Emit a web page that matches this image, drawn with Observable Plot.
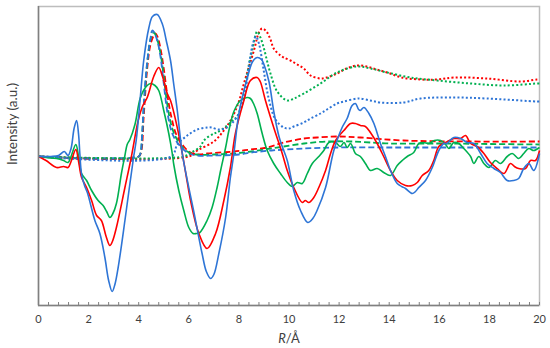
<!DOCTYPE html>
<html><head><meta charset="utf-8">
<script src="https://cdn.jsdelivr.net/npm/d3@7"></script>
<script src="https://cdn.jsdelivr.net/npm/@observablehq/plot@0.6"></script>
<style>body{margin:0;background:#fff}svg{display:block}</style>
</head><body><div id="chart"></div>
<script>
// [R (Å), intensity (a.u.)]
const blueSolid = [[0,0],[0.5,0],[0.8,1],[1.03,5],[1.18,1],[1.3,8],[1.42,28],[1.52,36],[1.6,22],[1.65,3],[1.72,-18],[1.85,-30],[1.95,-36],[2.1,-50],[2.25,-64],[2.45,-77],[2.65,-101],[2.8,-124],[2.94,-135],[3.05,-128],[3.18,-111],[3.45,-64],[3.65,-27],[3.8,0],[3.9,16],[4.05,55],[4.2,96],[4.4,128],[4.55,140],[4.74,142],[4.95,132],[5.1,116],[5.27,96],[5.4,72],[5.54,46],[5.74,3],[5.95,-25],[6.19,-54],[6.53,-97],[6.7,-115],[6.87,-122],[7.0,-118],[7.2,-97],[7.47,-61],[7.66,-21],[7.8,3],[8.0,43],[8.33,78],[8.55,95],[8.73,99],[8.9,97],[9.0,92],[9.2,75],[9.4,44],[9.6,20],[9.73,10],[9.93,-4],[10.19,-34],[10.46,-54],[10.75,-66],[10.95,-62],[11.12,-54],[11.46,-31],[11.79,6],[12.12,29],[12.32,38],[12.52,51],[12.65,53],[12.78,47],[12.85,46],[12.99,49],[13.19,43],[13.39,33],[13.65,13],[13.85,0],[14.05,-14],[14.32,-27],[14.5,-30],[14.65,-32],[14.92,-37],[15.05,-35],[15.18,-31],[15.45,-24],[15.72,-11],[15.98,6],[16.18,13],[16.3,13],[16.58,19],[16.85,18],[17.11,14],[17.38,13],[17.65,3],[17.91,-7],[18.18,-12],[18.44,-16],[18.71,-24],[18.97,-24],[19.17,-22],[19.37,-12],[19.57,-7],[19.77,-14],[20,3]];
const redSolid = [[0,0],[0.3,-4],[0.72,-11],[1.0,-10],[1.18,-11],[1.3,-5],[1.49,7],[1.6,-5],[1.72,-21],[1.92,-31],[2.12,-44],[2.32,-59],[2.51,-64],[2.7,-80],[2.85,-89],[2.95,-85],[3.11,-71],[3.45,-31],[3.71,0],[3.98,36],[4.15,50],[4.34,59],[4.6,80],[4.8,89],[4.95,80],[5.14,63],[5.27,56],[5.54,29],[5.74,3],[5.9,-20],[6.07,-44],[6.4,-77],[6.73,-92],[7.07,-77],[7.4,-44],[7.66,-11],[7.86,23],[8.2,56],[8.46,76],[8.73,79],[8.85,75],[9.06,56],[9.39,29],[9.73,3],[9.93,-14],[10.19,-31],[10.53,-46],[10.65,-44],[10.79,-46],[10.99,-41],[11.19,-31],[11.46,-14],[11.66,3],[11.86,16],[12.19,26],[12.46,33],[12.65,33],[12.85,31],[13.05,30],[13.25,24],[13.52,13],[13.78,0],[14.05,-14],[14.32,-24],[14.65,-29],[14.92,-29],[15.12,-26],[15.32,-19],[15.58,-14],[15.78,-4],[15.98,10],[16.25,14],[16.58,18],[16.85,18],[17.05,21],[17.25,13],[17.51,10],[17.78,3],[18.04,-6],[18.31,-12],[18.58,-17],[18.84,-7],[19.0,-10],[19.17,-12],[19.44,-12],[19.64,-4],[19.84,-4],[20,6]];
const greenSolid = [[0,0],[0.3,-1],[0.72,-2],[1.0,-4],[1.18,-6],[1.3,0],[1.49,12],[1.6,0],[1.72,-17],[1.92,-24],[2.12,-34],[2.38,-44],[2.58,-49],[2.72,-55],[2.85,-61],[2.97,-57],[3.11,-47],[3.31,-17],[3.45,1],[3.54,12],[3.65,17],[3.85,32],[4.07,59],[4.3,70],[4.47,73],[4.65,71],[4.8,66],[5.0,46],[5.2,23],[5.34,3],[5.4,-8],[5.6,-34],[5.8,-54],[6.0,-71],[6.17,-77],[6.3,-77],[6.44,-76],[6.73,-64],[6.93,-51],[7.13,-31],[7.27,-14],[7.47,9],[7.6,26],[7.8,45],[8.06,56],[8.33,59],[8.46,58],[8.6,52],[8.73,43],[8.93,23],[9.13,6],[9.39,-7],[9.66,-17],[9.93,-26],[10.13,-30],[10.33,-26],[10.53,-27],[10.73,-17],[10.93,-7],[11.19,0],[11.39,6],[11.59,14],[11.86,14],[12.05,10],[12.2,14],[12.32,9],[12.46,13],[12.65,3],[12.85,0],[13.05,-7],[13.25,-14],[13.52,-12],[13.78,-16],[14.05,-19],[14.32,-9],[14.52,-4],[14.72,0],[14.98,4],[15.18,13],[15.38,14],[15.58,13],[15.8,16],[16.05,16],[16.25,12],[16.38,8],[16.58,14],[16.78,13],[16.98,8],[17.25,0],[17.38,-7],[17.58,0],[17.78,-7],[17.98,-11],[18.24,-4],[18.44,-7],[18.71,0],[18.91,3],[19.17,-2],[19.37,3],[19.57,8],[19.77,6],[20,9]];
const blueDashed = [[0,0],[4.0,0],[4.07,3],[4.14,23],[4.2,50],[4.34,95],[4.47,118],[4.54,126],[4.62,124],[4.75,115],[4.87,100],[5.0,73],[5.14,45],[5.34,23],[5.6,12],[5.94,4],[6.3,1],[7,1],[8,2],[8.5,4],[9.3,6],[10.6,8],[12,9],[14,9],[16,9],[18,9],[20,9]];
const redDashed = [[0,0],[4.0,0],[4.1,5],[4.2,40],[4.34,88],[4.47,112],[4.6,121],[4.67,123],[4.75,120],[4.87,108],[5.0,88],[5.14,62],[5.3,40],[5.5,22],[5.8,10],[6.07,4],[6.4,2],[6.73,3],[7.8,5],[8.46,7],[9.13,9],[9.79,14],[10.6,18],[11.12,19],[11.92,20],[12.85,19],[14.58,16],[17.25,15],[19.9,15],[20,15]];
const greenDashed = [[0,0],[4.0,0],[4.07,3],[4.14,23],[4.2,50],[4.34,93],[4.47,117],[4.6,124],[4.7,120],[4.87,103],[5.0,80],[5.14,52],[5.34,28],[5.6,14],[5.94,5],[6.3,2],[7,2],[7.8,3],[8.5,5],[9.26,8],[9.79,10],[10.6,13],[11.5,15],[12.5,15],[14,13],[16,13],[18,12.5],[20,12]];
const blueDotted = [[0,0],[5.3,0],[5.54,12],[5.94,21],[6.34,27],[6.73,29],[6.9,29],[7.2,27],[7.53,29],[7.93,40],[8.2,58],[8.4,90],[8.55,112],[8.68,120],[8.8,113],[8.99,86],[9.19,58],[9.46,37],[9.79,29],[10.0,28],[10.19,30],[10.59,34],[10.86,38],[11.26,43],[11.52,47],[11.92,53],[12.19,55],[12.72,58],[12.85,58],[13.25,56],[13.65,54],[14.58,54],[15.25,58],[16.58,59],[17.91,58],[19.9,55],[20,55]];
const greenDotted = [[0,0],[5.8,0],[6.1,4],[6.47,10],[6.6,16],[7.0,23],[7.13,24],[7.53,31],[7.8,37],[7.93,40],[8.2,63],[8.4,92],[8.53,106],[8.73,125],[8.86,119],[9.0,108],[9.13,95],[9.26,83],[9.53,65],[9.93,56],[10.2,58],[10.59,63],[11.26,73],[11.92,84],[12.72,90],[13.25,88],[13.92,84],[14.85,79],[15.92,76],[17.25,73],[18.58,71],[19.9,73],[20,73]];
const redDotted = [[0,0],[6.0,0],[6.34,6],[7.0,15],[7.4,26],[7.73,39],[8.0,55],[8.2,73],[8.6,106],[8.8,124],[8.93,128],[9.1,125],[9.26,117],[9.39,108],[9.66,101],[9.79,99],[10.06,96],[10.33,92],[10.59,88],[10.86,81],[11.26,78],[11.5,79],[11.92,83],[12.3,88],[12.72,91],[13.1,90],[13.5,87],[13.92,84],[14.5,79],[15.25,77],[15.92,77],[16.58,79],[17.91,78],[19.24,75],[19.9,77],[20,77]];

const xTicks = [0,2,4,6,8,10,12,14,16,18,20];
const xMinorTicks = d3.range(0, 20.001, 0.4).map(v => +v.toFixed(1));
const xDomain = [0, 20];
const yDomain = [-149, 150];
const xLabel = "R/Å";
const yLabel = "Intensity (a.u.)";

const BLUE = "#2e75d6", RED = "#ff0000", GREEN = "#00b050";
const W = 550, H = 348, mT = 6, mB = 43, mL = 38, mR = 11;

const series = [
  {data: redDashed, color: RED, dash: "6,3", w: 1.8},
  {data: greenDashed, color: GREEN, dash: "6,3", w: 1.8},
  {data: blueDashed, color: BLUE, dash: "6,3", w: 1.8},
  {data: redDotted, color: RED, dash: "2,2.2", w: 2},
  {data: greenDotted, color: GREEN, dash: "2,2.2", w: 2},
  {data: blueDotted, color: BLUE, dash: "2,2.2", w: 2},
  {data: greenSolid, color: GREEN, dash: null, w: 1.6},
  {data: redSolid, color: RED, dash: null, w: 1.6},
  {data: blueSolid, color: BLUE, dash: null, w: 1.6}
];

const font = "Lato, 'Open Sans', sans-serif";
const chart = Plot.plot({
  width: W, height: H,
  marginTop: mT, marginBottom: mB, marginLeft: mL, marginRight: mR,
  style: {fontFamily: font, background: "#fff"},
  x: {domain: xDomain},
  y: {domain: yDomain, axis: null},
  marks: [
    Plot.frame({stroke: "#bdbdbd", strokeWidth: 1.5}),
    ...series.map(s => Plot.line(s.data, {
      x: d => d[0], y: d => d[1], stroke: s.color, strokeWidth: s.w,
      strokeDasharray: s.dash, strokeLinecap: "butt", curve: "catmull-rom"
    })),
    Plot.ruleX([xDomain[0]], {stroke: "#808080", strokeWidth: 1.5}),
    Plot.ruleY([yDomain[0]], {stroke: "#808080", strokeWidth: 1.5}),
    Plot.tickX(xMinorTicks, {x: d => d, stroke: "#808080", strokeWidth: 1, insetTop: H - mT - mB - 3}),
    Plot.axisX({ticks: xTicks, tickSize: 0, tickPadding: 10, fontSize: 11, fill: "#404040", label: null}),
    Plot.text([xLabel], {frameAnchor: "bottom", lineAnchor: "middle", dy: 33, fontSize: 13, fill: "#404040", text: d => d}),
    Plot.text([yLabel], {frameAnchor: "left", textAnchor: "middle", rotate: -90, dx: -26, dy: -32, fontSize: 13.5, fill: "#404040", text: d => d})
  ]
});
document.getElementById("chart").appendChild(chart);

// italic R in the x label
d3.select(chart).selectAll("text").filter(function() { return this.textContent === xLabel; })
  .each(function() {
    const t = d3.select(this);
    t.text(null);
    t.append("tspan").attr("font-style", "italic").text("R");
    t.append("tspan").text("/Å");
  });
</script>
</body></html>
